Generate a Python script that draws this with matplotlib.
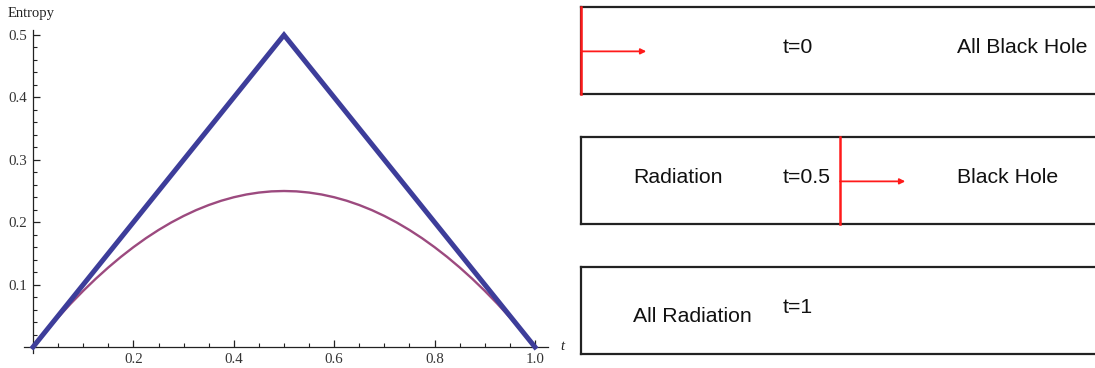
import numpy as np
import matplotlib
matplotlib.use('Agg')
import matplotlib.pyplot as plt
from matplotlib.ticker import MultipleLocator

# entropy curves
t_tri = [0.0, 0.5, 1.0]
s_tri = [0.0, 0.5, 0.0]

t_curve = [0.0, 0.025, 0.05, 0.075, 0.1, 0.125, 0.15, 0.175, 0.2, 0.225, 0.25,
           0.275, 0.3, 0.325, 0.35, 0.375, 0.4, 0.425, 0.45, 0.475, 0.5,
           0.525, 0.55, 0.575, 0.6, 0.625, 0.65, 0.675, 0.7, 0.725, 0.75,
           0.775, 0.8, 0.825, 0.85, 0.875, 0.9, 0.925, 0.95, 0.975, 1.0]
s_curve = [0.0, 0.0244, 0.0475, 0.0694, 0.09, 0.1094, 0.1275, 0.1444, 0.16, 0.1744, 0.1875,
           0.1994, 0.21, 0.2194, 0.2275, 0.2344, 0.24, 0.2444, 0.2475, 0.2494, 0.25,
           0.2494, 0.2475, 0.2444, 0.24, 0.2344, 0.2275, 0.2194, 0.21, 0.1994, 0.1875,
           0.1744, 0.16, 0.1444, 0.1275, 0.1094, 0.09, 0.0694, 0.0475, 0.0244, 0.0]

x_ticks = [0.2, 0.4, 0.6, 0.8, 1.0]
y_ticks = [0.1, 0.2, 0.3, 0.4, 0.5]

# diagram stages: boundary position t, left / right labels
stage_t = [0.0, 0.5, 1.0]
stage_time = ['t=0', 't=0.5', 't=1']
stage_left = ['', 'Radiation', 'All Radiation']
stage_right = ['All Black Hole', 'Black Hole', '']

W, H = 1095, 368
fig = plt.figure(figsize=(W / 100, H / 100), dpi=100)

serif = 'Liberation Serif'
sans = 'Liberation Sans'

# ---- left: entropy plot ----
ax = fig.add_axes([24 / W, (H - 353) / H, (548 - 24) / W, (353 - 30) / H])
ax.set_xlim(-0.018, 1.026)
ax.set_ylim(-0.0096, 0.508)
ax.plot(t_curve, s_curve, color='#9c4a7f', lw=1.7, zorder=3, clip_on=False)
ax.plot(t_tri, s_tri, color='#3d3d9a', lw=3.6, zorder=4, clip_on=False,
        solid_joinstyle='miter')

for side in ['top', 'right']:
    ax.spines[side].set_visible(False)
ax.spines['left'].set_position(('data', 0))
ax.spines['bottom'].set_position(('data', 0))
for side in ['left', 'bottom']:
    ax.spines[side].set_linewidth(0.9)
    ax.spines[side].set_color('#222222')

ax.set_xticks(x_ticks)
ax.set_yticks(y_ticks)
ax.xaxis.set_minor_locator(MultipleLocator(0.05))
ax.yaxis.set_minor_locator(MultipleLocator(0.02))
ax.tick_params(which='major', direction='in', length=5, width=0.9, color='#222222',
               labelsize=10.8, labelcolor='#333333', pad=4)
ax.tick_params(which='minor', direction='in', length=3, width=0.8, color='#222222')
ax.set_xticklabels(['%.1f' % v for v in x_ticks], fontfamily=serif)
ax.set_yticklabels(['%.1f' % v for v in y_ticks], fontfamily=serif)
ax.patch.set_visible(False)

fig.text(8 / W, 1 - 13 / H, 'Entropy', fontfamily=serif, fontsize=10.5,
         color='#222222', va='center', ha='left')
fig.text(560 / W, 1 - 346 / H, 't', fontfamily=serif, fontstyle='italic',
         fontsize=10.5, color='#222222', va='center', ha='left')

# ---- right: three boxes showing where the boundary is ----
box_tops = [7, 137, 267]
box_h = 87
x0 = 581
for i, t in enumerate(stage_t):
    top = box_tops[i]
    bx = fig.add_axes([x0 / W, (H - top - box_h) / H, (W - x0) / W, box_h / H])
    bx.set_xlim(0, (W - x0) / 518)
    bx.set_ylim(0, 1)
    bx.set_xticks([])
    bx.set_yticks([])
    bx.spines['right'].set_visible(False)
    for side in ['top', 'bottom', 'left']:
        bx.spines[side].set_linewidth(1.6)
        bx.spines[side].set_color('#222222')
    if t < 1:
        bx.axvline(t, color='#ff1a1a', lw=1.8, zorder=5, clip_on=False)
        bx.annotate('', xy=(t + 0.126, 0.49), xytext=(t, 0.49),
                    arrowprops=dict(arrowstyle='-|>', color='#ff1a1a', lw=1.3,
                                    mutation_scale=8, shrinkA=0, shrinkB=0))
    bx.text(0.39, 0.53, stage_time[i], fontfamily=sans, fontsize=15.3,
            color='#111111', va='center', ha='left')
    ly = 0.43 if i == 2 else 0.53
    if stage_left[i]:
        bx.text(0.101, ly, stage_left[i], fontfamily=sans, fontsize=15.3,
                color='#111111', va='center', ha='left')
    if stage_right[i]:
        bx.text(0.726, 0.53, stage_right[i], fontfamily=sans, fontsize=15.3,
                color='#111111', va='center', ha='left')

fig.savefig('out.png', dpi=100)
